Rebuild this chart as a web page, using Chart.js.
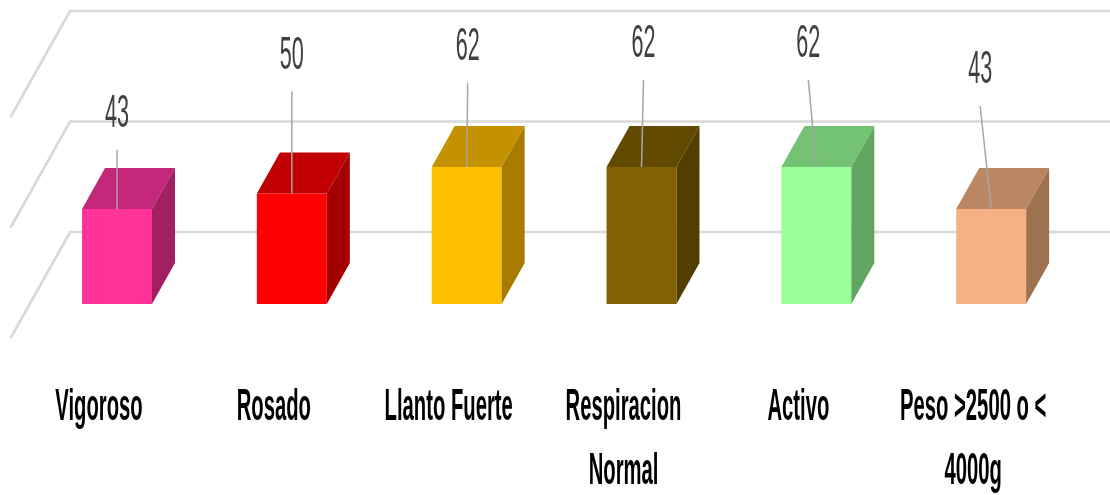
<!DOCTYPE html>
<html>
<head>
<meta charset="utf-8">
<script src="https://cdn.jsdelivr.net/npm/chart.js@4.4.0/dist/chart.umd.min.js"></script>
<style>
  html, body { margin: 0; padding: 0; background: #ffffff; overflow: hidden; }
  canvas { display: block; }
</style>
</head>
<body>
<canvas id="chart" width="1110" height="495"></canvas>
<script>
// Categories (multi-line labels are split into lines)
const categories = [
  ['Vigoroso'],
  ['Rosado'],
  ['Llanto Fuerte'],
  ['Respiracion', 'Normal'],
  ['Activo'],
  ['Peso >2500 o <', '4000g']
];

// Counts per characteristic
const values = [43, 50, 62, 62, 62, 43];

// Face colours of each column: front, top, right side
const frontColors = ['#FF3399', '#FF0000', '#FFC000', '#806000', '#99FF99', '#F4B183'];
const topColors   = ['#C3277A', '#C00000', '#C49200', '#614900', '#74C274', '#BB8762'];
const sideColors  = ['#A21F61', '#A30000', '#A67B00', '#523E00', '#60A560', '#9E7250'];

// Draws text squeezed horizontally
function squeezedText(ctx, text, x, y, sx) {
  ctx.save();
  ctx.translate(x, y);
  ctx.scale(sx, 1);
  ctx.textAlign = 'center';
  ctx.textBaseline = 'alphabetic';
  ctx.fillText(text, 0, 0);
  ctx.restore();
}

// Perspective floor/wall gridlines, extruded column faces and labels
const depth3d = {
  id: 'depth3d',
  beforeDatasetsDraw(chart, args, o) {
    const { ctx, chartArea, scales: { y } } = chart;
    ctx.save();
    ctx.strokeStyle = o.gridColor;
    ctx.lineWidth = o.gridWidth;
    ctx.lineJoin = 'round';
    y.ticks.filter(t => t.value % o.gridStep === 0).forEach(t => {
      const py = y.getPixelForValue(t.value);
      const fx = chartArea.left + o.floorFront.dx, fy = py + o.floorFront.dy;
      const bx = chartArea.left + o.wall.dx,       by = py + o.wall.dy;
      ctx.beginPath();
      ctx.moveTo(fx, fy);
      ctx.lineTo(bx, by);
      ctx.lineTo(chart.width + 5, by);
      ctx.stroke();
    });
    ctx.restore();
  },
  afterDatasetsDraw(chart, args, o) {
    const { ctx } = chart;
    const meta = chart.getDatasetMeta(0);
    const dx = o.bar.dx, dy = o.bar.dy;
    ctx.save();
    meta.data.forEach((bar, i) => {
      const p = bar.getProps(['x', 'y', 'base', 'width'], true);
      const x0 = p.x - p.width / 2, x1 = p.x + p.width / 2;
      const top = p.y, bottom = p.base;
      // top face
      ctx.fillStyle = topColors[i];
      ctx.beginPath();
      ctx.moveTo(x0, top);
      ctx.lineTo(x1, top);
      ctx.lineTo(x1 + dx, top + dy);
      ctx.lineTo(x0 + dx, top + dy);
      ctx.closePath();
      ctx.fill();
      // right side face
      ctx.fillStyle = sideColors[i];
      ctx.beginPath();
      ctx.moveTo(x1, top);
      ctx.lineTo(x1 + dx, top + dy);
      ctx.lineTo(x1 + dx, bottom + dy);
      ctx.lineTo(x1, bottom);
      ctx.closePath();
      ctx.fill();
    });

    // value labels with leader lines
    const ds = chart.data.datasets[0];
    meta.data.forEach((bar, i) => {
      const p = bar.getProps(['x', 'y'], true);
      const sh = o.labelShift[i];
      const lx = p.x + sh[0], ly = p.y + sh[1];
      ctx.strokeStyle = o.leaderColor;
      ctx.lineWidth = 1.5;
      ctx.beginPath();
      ctx.moveTo(lx, ly + o.leaderGap);
      ctx.lineTo(p.x, p.y);
      ctx.stroke();
      ctx.fillStyle = o.valueColor;
      ctx.font = o.valueFont;
      squeezedText(ctx, String(ds.data[i]), lx, ly, o.squeeze);
    });
    ctx.restore();
  },
  afterDraw(chart, args, o) {
    const { ctx, scales: { x, y } } = chart;
    const base = y.getPixelForValue(0);
    ctx.save();
    ctx.fillStyle = o.categoryColor;
    ctx.font = o.categoryFont;
    chart.data.labels.forEach((lines, i) => {
      const cx = x.getPixelForValue(i) + o.floorFront.dx + 1;
      lines.forEach((line, j) => {
        squeezedText(ctx, line, cx, base + o.categoryTop + j * o.categoryLine, o.categorySqueeze);
      });
    });
    ctx.restore();
  }
};

new Chart(document.getElementById('chart'), {
  type: 'bar',
  data: {
    labels: categories,
    datasets: [{
      data: values,
      backgroundColor: frontColors,
      borderWidth: 0,
      barPercentage: 0.4,
      categoryPercentage: 1
    }]
  },
  options: {
    responsive: false,
    animation: false,
    devicePixelRatio: 1,
    layout: { padding: { left: 29.6, right: 31.4, top: 16.7, bottom: 191 } },
    plugins: {
      legend: { display: false },
      tooltip: { enabled: false },
      depth3d: {
        gridStep: 50,
        gridColor: '#D9D9D9',
        gridWidth: 2.6,
        floorFront: { dx: -19, dy: 34 },
        wall: { dx: 40.5, dy: -72 },
        bar: { dx: 23, dy: -41 },
        labelShift: [[0, -82], [0, -125], [1, -107], [2, -110], [-8, -110], [-11, -126]],
        leaderGap: 23,
        leaderColor: '#A6A6A6',
        valueColor: '#404040',
        valueFont: '46px "Liberation Sans", Arial, sans-serif',
        squeeze: 0.47,
        categoryColor: '#000000',
        categoryFont: 'bold 44px "Liberation Sans", Arial, sans-serif',
        categorySqueeze: 0.46,
        categoryTop: 116,
        categoryLine: 64
      }
    },
    scales: {
      x: { display: false, offset: true, grid: { display: false } },
      y: { display: false, min: 0, max: 130, ticks: { stepSize: 50 } }
    }
  },
  plugins: [depth3d]
});
</script>
</body>
</html>
